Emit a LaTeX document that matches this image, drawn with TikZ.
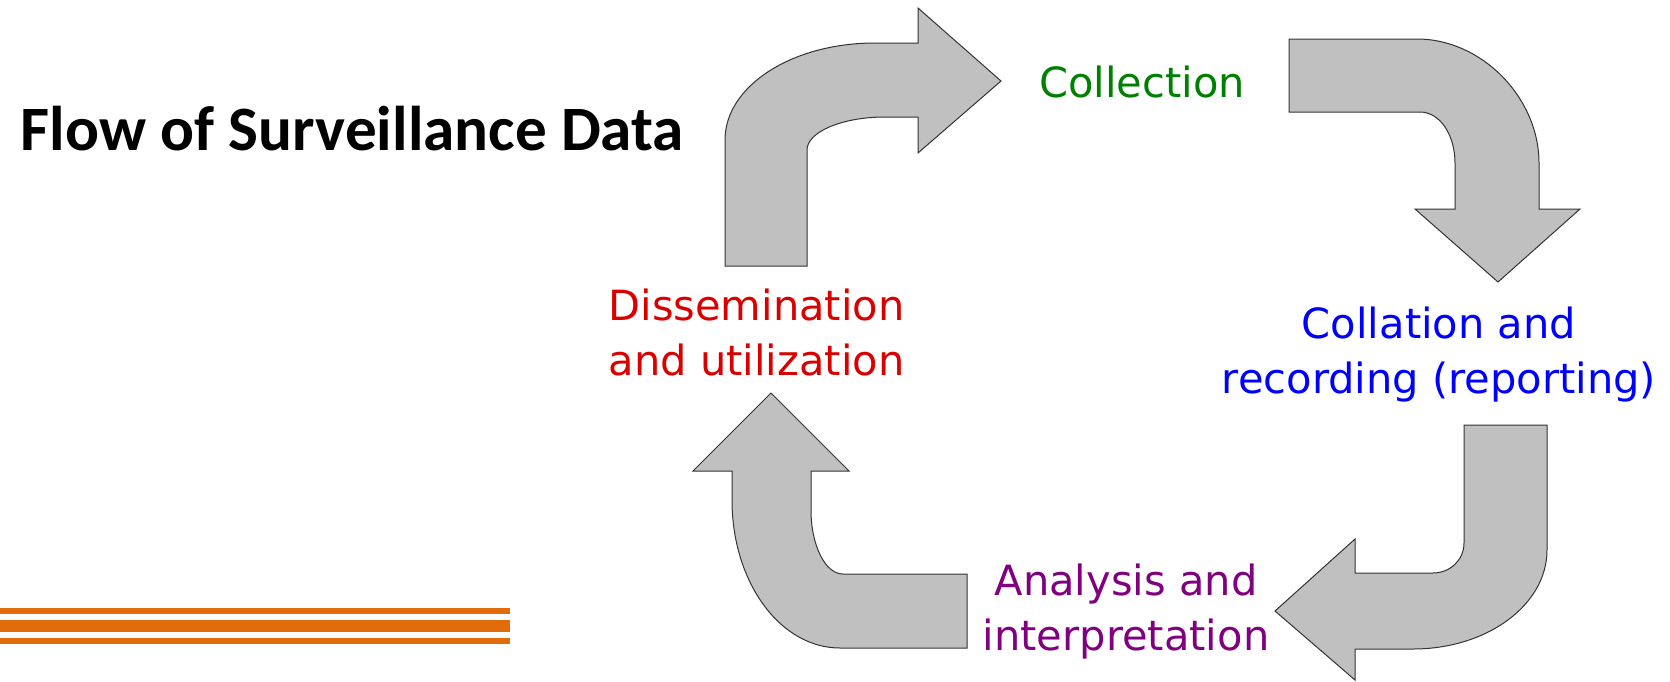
\documentclass[tikz,border=0pt]{standalone}
\usepackage{fontspec}
\setmainfont{DejaVu Sans}
\newfontfamily\titelfont{Carlito}
\definecolor{silber}{HTML}{C0C0C0}
\definecolor{rand}{HTML}{333333}
\definecolor{gruen}{HTML}{008000}
\definecolor{blau}{HTML}{0000FF}
\definecolor{rot}{HTML}{D90000}
\definecolor{lila}{HTML}{800080}
\definecolor{strich}{HTML}{E36C0A}
\tikzset{
  pfeil/.style={fill=silber,draw=rand,line width=1pt,line join=miter},
  schritt/.style={font=\fontsize{41.6}{55}\selectfont,align=center,anchor=base,inner sep=0pt},
}

\begin{document}
\begin{tikzpicture}[x=1pt,y=-1pt]
  \useasboundingbox (0,0) rectangle (1670,681);
  \node[anchor=base west,inner sep=0pt,font=\titelfont\bfseries\fontsize{63.2}{70}\selectfont] (titel) at (20.7,150) {Flow of Surveillance Data};
  % Balken unten links
  \fill[strich] (0,608.3) rectangle (510,614);
  \fill[strich] (0,620.3) rectangle (510,632);
  \fill[strich] (0,638.3) rectangle (510,644);
  % Stationen (Anker = Grundlinie der letzten Zeile)
  \node[schritt,text=gruen] (sammlung) at (1142,97) {Collection};
  \node[schritt,text=blau] (erfassung) at (1439,393) {Collation and\\recording (reporting)};
  \node[schritt,text=lila] (analyse) at (1126,650) {Analysis and\\interpretation};
  \node[schritt,text=rot] (verbreitung) at (756.5,375) {Dissemination\\and utilization};
  % Pfeile im Uhrzeigersinn
  \draw[pfeil] (725,266) -- (725,140) .. controls (725,86) and (792,43) .. (875,43) -- (918,43) -- (918,8)
    -- (1001,81) -- (918,153) -- (918,117) -- (885,117) .. controls (842,117) and (807,132) .. (807,150)
    -- (807,266) -- cycle;
  \draw[pfeil] (1289,39) -- (1417,39) .. controls (1482,39) and (1539,98) .. (1539,163) -- (1539,209)
    -- (1580,209) -- (1498,282) -- (1415,209) -- (1455,209) -- (1455,163) .. controls (1455,135) and (1440,112) .. (1420,112)
    -- (1289,112) -- cycle;
  \draw[pfeil] (1464,425) -- (1547,425) -- (1547,550) .. controls (1547,605) and (1487,649) .. (1413,649)
    -- (1355,649) -- (1355,680) -- (1275,611) -- (1355,539) -- (1355,573) -- (1433,573)
    .. controls (1450,573) and (1464,560) .. (1464,543) -- cycle;
  \draw[pfeil] (967,574) -- (967,648) -- (840,648) .. controls (780,648) and (732,582) .. (732,500)
    -- (732,471) -- (693,471) -- (771,393) -- (849,471) -- (811,471) -- (811,510)
    .. controls (811,545) and (825,574) .. (843,574) -- cycle;
\end{tikzpicture}
\end{document}
